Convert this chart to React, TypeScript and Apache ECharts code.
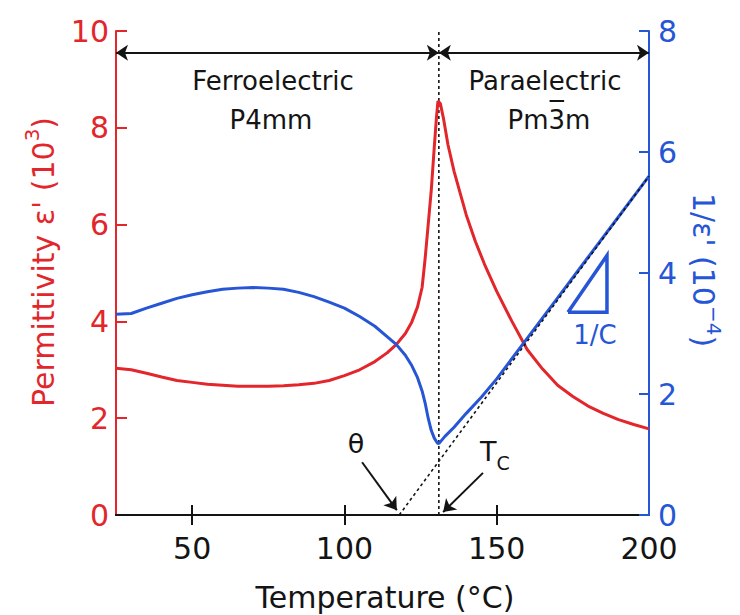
import React, { useEffect, useRef } from "react";
import * as echarts from "echarts";

const FONT = '"DejaVu Sans", "Liberation Sans", Arial, sans-serif';
const RED = "#e2262b";
const BLUE = "#2656d6";
const INK = "#141414";

// x axis (temperature, °C)
const X_MIN = 25;
const X_MAX = 200;
const X_LABELS = [50, 100, 150, 200];
const X_TICKS = [50, 100, 150];

// permittivity ε' (10^3) — left axis
const T_EPS = [25, 30, 35, 40, 45, 50, 55, 60, 65, 70, 75, 80, 85, 90, 95, 100, 105, 110, 114, 117, 120, 122, 124, 125.5, 126.5, 127.5, 128.5, 129.5, 130.2, 130.7, 131.5, 132.5, 134, 136, 138, 140, 143, 146, 150, 155, 160, 165, 170, 175, 180, 185, 190, 195, 200];
const EPS = [3.03, 3.0, 2.93, 2.85, 2.78, 2.74, 2.7, 2.68, 2.66, 2.66, 2.66, 2.67, 2.69, 2.72, 2.78, 2.88, 3.0, 3.17, 3.35, 3.52, 3.75, 3.97, 4.3, 4.7, 5.3, 6.0, 6.7, 7.6, 8.2, 8.55, 8.5, 8.2, 7.65, 7.1, 6.65, 6.2, 5.65, 5.18, 4.62, 4.0, 3.42, 3.02, 2.68, 2.45, 2.25, 2.1, 1.97, 1.87, 1.78];

// inverse permittivity 1/ε' (10^-4) — right axis
const T_INV = [25, 30, 35, 40, 45, 50, 55, 60, 65, 70, 75, 80, 85, 90, 95, 100, 105, 110, 114, 117, 120, 122, 124, 125.5, 126.5, 127.5, 128.5, 129.5, 130.5, 131, 133, 136, 140, 145, 150, 160, 170, 180, 190, 200];
const INV = [3.32, 3.33, 3.42, 3.5, 3.58, 3.64, 3.69, 3.73, 3.75, 3.76, 3.75, 3.73, 3.68, 3.61, 3.52, 3.42, 3.28, 3.12, 2.95, 2.82, 2.64, 2.48, 2.27, 2.05, 1.85, 1.6, 1.4, 1.27, 1.19, 1.18, 1.3, 1.45, 1.68, 1.95, 2.25, 2.92, 3.59, 4.26, 4.93, 5.6];

// annotations (data units)
const TC = 131;
const THETA = 118;
const CW_END = [200, 5.6];
const ARROW_Y = 9.55;
const THETA_ARROW = [[105.8, 1.09], [117.2, 0.1]];
const TC_ARROW = [[145.5, 0.87], [132.4, 0.06]];
const SLOPE_TRI = [[173.4, 3.35], [186.2, 3.35], [186.2, 4.29], [173.4, 3.35]];

const zip = (a: number[], b: number[]) => a.map((v, i) => [v, b[i]]);

export default function App() {
  const ref = useRef<HTMLDivElement>(null);
  useEffect(() => {
    if (!ref.current) return;
    const chart = echarts.init(ref.current, undefined, { renderer: "svg" });

    // measure for the overline of "3" in Pm3m
    const phaseSize = 26;
    let barX0 = 0, barX1 = 0;
    const cx = 549;
    const cnv = document.createElement("canvas").getContext("2d");
    if (cnv) {
      cnv.font = `${phaseSize}px "DejaVu Sans"`;
      const wAll = cnv.measureText("Pm3m").width;
      const wPm = cnv.measureText("Pm").width;
      const w3 = cnv.measureText("3").width;
      barX0 = cx - wAll / 2 + wPm + 1;
      barX1 = barX0 + w3 - 2;
    }

    const option: any = {
      animation: false,
      grid: { left: 116, right: 91, top: 31, bottom: 100, containLabel: false },
      xAxis: [
        {
          type: "value", min: X_MIN, max: X_MAX, position: "bottom",
          axisLine: { lineStyle: { color: INK, width: 2 } },
          axisTick: { inside: true, length: 10, lineStyle: { color: INK, width: 2 }, customValues: X_TICKS },
          axisLabel: { color: INK, fontSize: 30, fontFamily: FONT, margin: 18, customValues: X_LABELS },
          splitLine: { show: false },
          z: 2,
        },
        {
          type: "value", min: X_MIN, max: X_MAX, position: "top",
          axisLine: { lineStyle: { color: INK, width: 2 } },
          axisTick: { inside: true, length: 10, lineStyle: { color: INK, width: 2 }, customValues: X_TICKS },
          axisLabel: { show: false },
          splitLine: { show: false },
          z: 2,
        },
      ],
      yAxis: [
        {
          type: "value", min: 0, max: 10, interval: 2, position: "left",
          axisLine: { show: true, onZero: false, lineStyle: { color: RED, width: 2 } },
          axisTick: { show: true, inside: true, length: 11, lineStyle: { color: RED, width: 2 } },
          axisLabel: { color: RED, fontSize: 30, fontFamily: FONT, margin: 7 },
          splitLine: { show: false },
          z: 1,
        },
        {
          type: "value", min: 0, max: 8, interval: 2, position: "right",
          axisLine: { show: true, onZero: false, lineStyle: { color: BLUE, width: 2 } },
          axisTick: { show: true, inside: true, length: 10, lineStyle: { color: BLUE, width: 2 } },
          axisLabel: { color: BLUE, fontSize: 30, fontFamily: FONT, margin: 9 },
          splitLine: { show: false },
          z: 3,
        },
      ],
      series: [
        {
          name: "Tc", type: "line", yAxisIndex: 0, silent: true, showSymbol: false,
          data: [[TC, 0], [TC, 10]],
          lineStyle: { color: INK, width: 1.6, type: [3, 3] },
          z: 1,
          markLine: {
            silent: true, symbol: ["arrow", "arrow"], symbolSize: 12,
            label: { show: false },
            lineStyle: { color: INK, width: 2, type: "solid" },
            itemStyle: { color: INK },
            data: [
              [{ coord: [X_MIN, ARROW_Y] }, { coord: [TC, ARROW_Y] }],
              [{ coord: [TC, ARROW_Y] }, { coord: [X_MAX, ARROW_Y] }],
              [{ coord: THETA_ARROW[0], symbol: "none" }, { coord: THETA_ARROW[1] }],
              [{ coord: TC_ARROW[0], symbol: "none" }, { coord: TC_ARROW[1] }],
            ],
          },
        },
        {
          name: "eps", type: "line", yAxisIndex: 0, silent: true, showSymbol: false,
          data: zip(T_EPS, EPS),
          lineStyle: { color: RED, width: 3 }, z: 3,
        },
        {
          name: "inv", type: "line", yAxisIndex: 1, silent: true, showSymbol: false,
          data: zip(T_INV, INV),
          lineStyle: { color: BLUE, width: 3 }, z: 3,
        },
        {
          name: "cw", type: "line", yAxisIndex: 1, silent: true, showSymbol: false,
          data: [[THETA, 0], CW_END],
          lineStyle: { color: INK, width: 1.6, type: [3, 3] }, z: 4,
        },
        {
          name: "tri", type: "line", yAxisIndex: 1, silent: true, showSymbol: false,
          data: SLOPE_TRI,
          lineStyle: { color: BLUE, width: 3.5, join: "miter" }, z: 4,
        },
      ],
      graphic: [
        { type: "text", x: 273, y: 81, style: { text: "Ferroelectric", fontFamily: FONT, fontSize: 26, fill: INK, align: "center", verticalAlign: "middle" } },
        { type: "text", x: 271, y: 120, style: { text: "P4mm", fontFamily: FONT, fontSize: 26, fill: INK, align: "center", verticalAlign: "middle" } },
        { type: "text", x: 545, y: 81, style: { text: "Paraelectric", fontFamily: FONT, fontSize: 26, fill: INK, align: "center", verticalAlign: "middle" } },
        { type: "text", x: cx, y: 120, style: { text: "Pm3m", fontFamily: FONT, fontSize: phaseSize, fill: INK, align: "center", verticalAlign: "middle" } },
        { type: "line", shape: { x1: barX0, y1: 101, x2: barX1, y2: 101 }, style: { stroke: INK, lineWidth: 2 } },
        { type: "text", x: 356, y: 443, style: { text: "θ", fontFamily: FONT, fontSize: 27, fill: INK, align: "center", verticalAlign: "middle" } },
        {
          type: "text", x: 480, y: 455,
          style: {
            text: "{t|T}{s|C}", align: "left", verticalAlign: "middle",
            rich: {
              t: { fontFamily: FONT, fontSize: 27, fill: INK, lineHeight: 34, verticalAlign: "top" },
              s: { fontFamily: FONT, fontSize: 19, fill: INK, lineHeight: 34, verticalAlign: "bottom", padding: [10, 0, 0, 0] },
            },
          },
        },
        { type: "text", x: 595, y: 335, style: { text: "1/C", fontFamily: FONT, fontSize: 26, fill: BLUE, align: "center", verticalAlign: "middle" } },
        { type: "text", x: 385, y: 597, style: { text: "Temperature (°C)", fontFamily: FONT, fontSize: 30, fill: INK, align: "center", verticalAlign: "middle" } },
        {
          type: "text", x: 40, y: 262, rotation: Math.PI / 2,
          style: {
            text: "{a|Permittivity ε' (10}{s|3}{a|)}", align: "center", verticalAlign: "middle",
            rich: {
              a: { fontFamily: FONT, fontSize: 30, fill: RED, lineHeight: 36, verticalAlign: "bottom" },
              s: { fontFamily: FONT, fontSize: 20, fill: RED, lineHeight: 36, verticalAlign: "top" },
            },
          },
        },
        {
          type: "text", x: 706, y: 270, rotation: -Math.PI / 2,
          style: {
            text: "{a|1/ε' (10}{s|−4}{a|)}", align: "center", verticalAlign: "middle",
            rich: {
              a: { fontFamily: FONT, fontSize: 30, fill: BLUE, lineHeight: 36, verticalAlign: "bottom" },
              s: { fontFamily: FONT, fontSize: 20, fill: BLUE, lineHeight: 36, verticalAlign: "top" },
            },
          },
        },
      ],
    };
    chart.setOption(option);
    return () => chart.dispose();
  }, []);
  return <div ref={ref} style={{ position: "absolute", left: 0, top: 0, width: 740, height: 615, background: "#fff" }} />;
}
